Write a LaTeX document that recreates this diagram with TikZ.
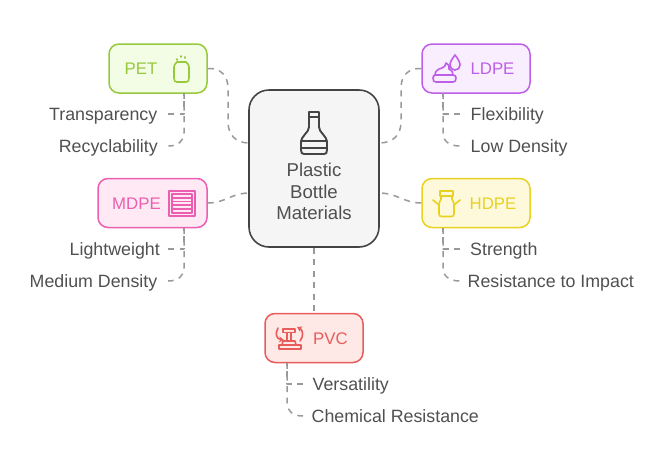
\documentclass[tikz,border=0pt]{standalone}
\usepackage{fontspec}
\setmainfont{Liberation Sans}
\usepackage{tikz}
\usetikzlibrary{arrows.meta,calc}
\usetikzlibrary{positioning}
\definecolor{petc}{HTML}{97C93D}\definecolor{petf}{HTML}{F3FCE4}
\definecolor{ldpec}{HTML}{BF5FE8}\definecolor{ldpef}{HTML}{F9EEFE}
\definecolor{mdpec}{HTML}{EC5FB0}\definecolor{mdpef}{HTML}{FEE9F5}
\definecolor{hdpec}{HTML}{E8D21F}\definecolor{hdpef}{HTML}{FEF9DB}
\definecolor{pvcc}{HTML}{E85C5C}\definecolor{pvcf}{HTML}{FEE9E7}
\definecolor{inkc}{HTML}{444444}\definecolor{txtc}{HTML}{505050}\definecolor{wirec}{HTML}{999999}
\tikzset{
  boxnode/.style={line width=1.5pt,rounded corners=10pt,minimum height=49pt,inner sep=0pt},
  lab/.style={text=#1,inner sep=0pt,text height=12.5pt,text depth=0pt,font=\fontsize{16.8}{20}\selectfont},
  itemr/.style={text=txtc,anchor=east,inner xsep=10.5pt,inner ysep=0pt,text height=12.5pt,text depth=0pt},
  iteml/.style={text=txtc,anchor=west,inner xsep=10.5pt,inner ysep=0pt,text height=12.5pt,text depth=0pt},
  wire/.style={draw=wirec,line width=1.5pt,dash pattern=on 6pt off 5.5pt},
  icon/.style={draw=#1,line width=1.6pt,line join=round,line cap=round}
}

\begin{document}
\begin{tikzpicture}[x=1pt,y=-1pt,line join=round,font=\fontsize{17.8}{21.5}\selectfont]
\useasboundingbox (0,0) rectangle (661,472);
% --- centre
\node[draw=inkc,fill=black!4,line width=1.6pt,rounded corners=20pt,minimum width=130pt,minimum height=157pt,inner sep=0pt] (matl) at (314,168.5) {};
\node[text=txtc,align=center,inner sep=0pt,font=\fontsize{18.6}{21.5}\selectfont] (matltxt) at (314,191.5) {Plastic\\Bottle\\Materials};
\draw[icon=inkc,line width=1.9pt] (309,112) rectangle (319,117);
\draw[icon=inkc,line width=1.9pt] (309,117) -- (309,127) .. controls (309,133) and (301,135) .. (301,143) -- (301,150) .. controls (301,153) and (302,154) .. (304,154) -- (324,154) .. controls (326,154) and (327,153) .. (327,150) -- (327,143) .. controls (327,135) and (319,133) .. (319,127) -- (319,117);
\draw[icon=inkc,line width=1.9pt] (301,141) -- (327,141) (301,148) -- (327,148);
% --- PET
\node[boxnode,draw=petc,fill=petf,minimum width=98pt] (pet) at (158,68.5) {};
\node[lab=petc] (pettxt) at (141,68) {PET};
\draw[icon=petc] (174,67) .. controls (174,65) and (175,64) .. (177,62) -- (186,62) .. controls (188,64) and (189,65) .. (189,67) -- (189,78) .. controls (189,81) and (188,82) .. (186,82) -- (177,82) .. controls (175,82) and (174,81) .. (174,78) -- cycle;
\draw[icon=petc] (177,59) -- (177,60) (181,56) -- (181,57) (185,57) -- (185,58);
\node[itemr] (pett1) at (168,114) {Transparency};
\node[itemr] (pett2) at (168.5,146) {Recyclability};
\coordinate (petb) at (184,93);
\draw[wire] (pett1.east) -- (petb |- pett1.east) -- (petb);
\draw[wire] (petb) -- (184,133) .. controls (184,141) and (178,146) .. (pett2.east);
% --- LDPE
\node[boxnode,draw=ldpec,fill=ldpef,minimum width=108pt] (ldpe) at (476,68.5) {};
\node[lab=ldpec] (ldpetxt) at (492.5,68) {LDPE};
\draw[icon=ldpec] (433,78) .. controls (433,76) and (434,75) .. (436,75) -- (453,75) .. controls (455,75) and (456,76) .. (456,78) .. controls (456,81) and (455,82) .. (453,82) -- (436,82) .. controls (434,82) and (433,81) .. (433,78) -- cycle;
\draw[icon=ldpec] (435,75) .. controls (435,71) and (438,69) .. (442,68) .. controls (444,67) and (446,66) .. (446,63) .. controls (449,65) and (450,67) .. (449,69) .. controls (452,70) and (453,72) .. (453,75);
\draw[icon=ldpec,fill=ldpef] (455,55) .. controls (458,59) and (460,62) .. (460,65) .. controls (460,68) and (458,70) .. (455,70) .. controls (452,70) and (450,68) .. (450,65) .. controls (450,62) and (452,59) .. (455,55) -- cycle;
\node[iteml] (ldpet1) at (460,114) {Flexibility};
\node[iteml] (ldpet2) at (460,146) {Low Density};
\coordinate (ldpeb) at (443,93);
\draw[wire] (ldpet1.west) -- (ldpeb |- ldpet1.west) -- (ldpeb);
\draw[wire] (ldpeb) -- (443,133) .. controls (443,141) and (449,146) .. (ldpet2.west);
% --- MDPE
\node[boxnode,draw=mdpec,fill=mdpef,minimum width=109pt] (mdpe) at (152.5,203) {};
\node[lab=mdpec] (mdpetxt) at (136.5,203) {MDPE};
\draw[icon=mdpec,line width=1.8pt] (169,191) rectangle (195,216);
\draw[icon=mdpec,line width=1.3pt] (172,194) rectangle (192,213);
\draw[icon=mdpec,line width=1.3pt] (172,198) -- (192,198) (172,201.5) -- (192,201.5) (172,205) -- (192,205) (172,209) -- (192,209);
\node[itemr] (mdpet1) at (170.5,249) {Lightweight};
\node[itemr] (mdpet2) at (168,281) {Medium Density};
\coordinate (mdpeb) at (184,228);
\draw[wire] (168,249) -- (mdpeb |- mdpet1.east) -- (mdpeb);
\draw[wire] (mdpeb) -- (184,268) .. controls (184,276) and (178,281) .. (mdpet2.east);
% --- HDPE
\node[boxnode,draw=hdpec,fill=hdpef,minimum width=108pt] (hdpe) at (476,203) {};
\node[lab=hdpec] (hdpetxt) at (493,203) {HDPE};
\draw[icon=hdpec] (440,191) rectangle (453,196);
\draw[icon=hdpec] (441,196) -- (441,199) .. controls (441,201) and (439,201) .. (439,205) -- (439,214) .. controls (439,216) and (440,216.5) .. (442,216.5) -- (451,216.5) .. controls (453,216.5) and (454,216) .. (454,214) -- (454,205) .. controls (454,201) and (452,201) .. (452,199) -- (452,196);
\draw[icon=hdpec] (433,200) -- (439,205) (460,200) -- (454,205);
\node[iteml] (hdpet1) at (459.5,249) {Strength};
\node[iteml] (hdpet2) at (457,281) {Resistance to Impact};
\coordinate (hdpeb) at (443,228);
\draw[wire] (460,249) -- (hdpeb |- hdpet1.west) -- (hdpeb);
\draw[wire] (hdpeb) -- (443,268) .. controls (443,276) and (449,281) .. (460,281);
% --- PVC
\node[boxnode,draw=pvcc,fill=pvcf,minimum width=98pt] (pvc) at (314,338) {};
\node[lab=pvcc] (pvctxt) at (330.5,338) {PVC};
\draw[icon=pvcc] (283,329) rectangle (295,332.5);
\draw[icon=pvcc] (287,332.5) -- (287,341) (291,332.5) -- (291,341) (283,341) -- (295,341) -- (296,345) (283,341) -- (282,345);
\draw[icon=pvcc] (279,345) rectangle (301,349);
\draw[icon=pvcc,-{Stealth[length=5pt,width=6pt]}] (278,328) .. controls (275,333) and (276,339) .. (284,340);
\draw[icon=pvcc,-{Stealth[length=5pt,width=6pt]}] (300,341) .. controls (304,336) and (303,330) .. (297,327);
\node[iteml] (pvct1) at (302,384) {Versatility};
\node[iteml] (pvct2) at (301,416) {Chemical Resistance};
\coordinate (pvcb) at (287,363);
\draw[wire] (303,384) -- (pvcb |- pvct1.west) -- (pvcb);
\draw[wire] (pvcb) -- (287,403) .. controls (287,411) and (293,416) .. (303,416);
% --- connectors
\coordinate (matlw1) at (249,143);
\coordinate (matlw2) at (249,193);
\coordinate (matle1) at (379,143);
\coordinate (matle2) at (379,193);
\draw[wire] (pet.east) .. controls (220,68) and (228,75) .. (228,88) -- (228,122) .. controls (228,135) and (236,143) .. (matlw1);
\draw[wire] (ldpe.west) .. controls (409,68) and (401,75) .. (401,88) -- (401,122) .. controls (401,135) and (393,143) .. (matle1);
\draw[wire] (mdpe.east) .. controls (225,203) and (232,193) .. (matlw2);
\draw[wire] (hdpe.west) .. controls (404,203) and (397,193) .. (matle2);
\draw[wire] (matl.south) -- (pvc.north);
\end{tikzpicture}
\end{document}
